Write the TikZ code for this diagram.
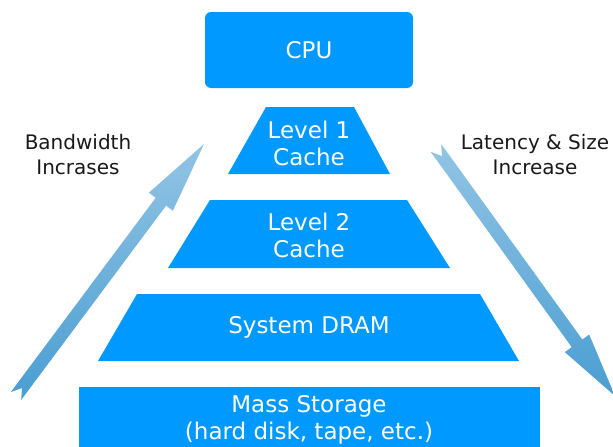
\documentclass[tikz,border=0pt]{standalone}
\usepackage{fontspec}
\setmainfont{DejaVu Sans}
\definecolor{boxblue}{RGB}{0,153,255}
\definecolor{arrowlight}{RGB}{146,196,228}
\definecolor{arrowdark}{RGB}{74,158,210}
\definecolor{labelgray}{RGB}{25,25,25}
\begin{document}
\begin{tikzpicture}[x=1pt,y=-1pt,
  boxtext/.style={text=white,align=center,font=\fontsize{23}{27}\selectfont,inner sep=0pt},
  labeltext/.style={text=labelgray,align=center,font=\fontsize{20}{25}\selectfont,inner sep=0pt},
  tierfill/.style={fill=boxblue},
  arrowshade/.style={top color=arrowlight,bottom color=arrowdark}]
\useasboundingbox (0,0) rectangle (613,447);
\clip (0,0) rectangle (613,447);
% tiers
\fill[tierfill,rounded corners=6pt] (205,12) rectangle (413,88);
\fill[tierfill] (266,107) -- (354,107) -- (390,174) -- (228,174) -- cycle;
\fill[tierfill] (210,200) -- (407,200) -- (450,268) -- (168,268) -- cycle;
\fill[tierfill] (137,294) -- (480,294) -- (519,361) -- (98,361) -- cycle;
\fill[tierfill] (79,387) rectangle (540,460);
% texts
\node[boxtext] (cpu) at (309,50) {CPU};
\node[boxtext] (l1) at (309,143) {Level 1\\Cache};
\node[boxtext] (l2) at (309,235) {Level 2\\Cache};
\node[boxtext] (dram) at (309,327) {System DRAM};
\node[boxtext] (mass) at (309,420) {Mass Storage\\(hard disk, tape, etc.)};
\node[labeltext] (bw) at (78,155) {Bandwidth\\Incrases};
\node[labeltext] (lat) at (535,155) {Latency \& Size\\Increase};
% arrows
\shade[arrowshade] (204,144) -- (172.9,210.7) -- (166.1,205.6) -- (21.2,399.9) -- (22.0,388.0) -- (10.8,392.1) -- (155.7,197.8) -- (148.9,192.7) -- cycle;
\shade[arrowshade] (615,396) -- (589.2,334.5) -- (582.3,339.5) -- (441.3,144.2) -- (441.9,156.1) -- (430.7,151.8) -- (571.7,347.1) -- (564.8,352.1) -- cycle;
\end{tikzpicture}
\end{document}
